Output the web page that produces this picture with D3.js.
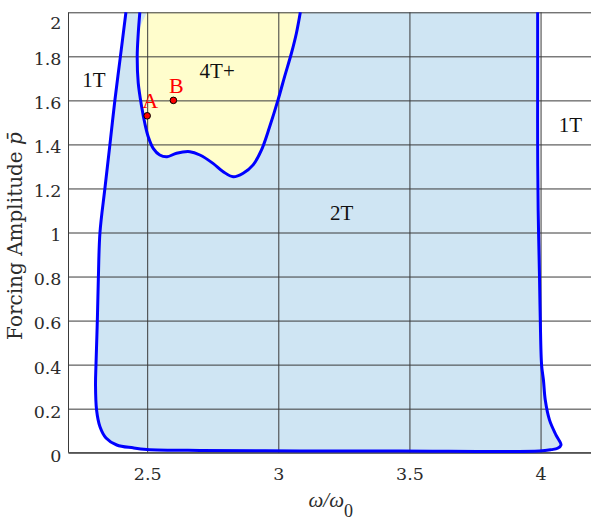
<!DOCTYPE html>
<html>
<head>
<meta charset="utf-8">
<script src="https://cdn.jsdelivr.net/npm/d3@7"></script>
<style>
  html, body { margin: 0; padding: 0; background: #fff; }
  svg { display: block; }
</style>
</head>
<body>
<svg id="chart" width="591" height="522"></svg>
<script>
// ---- data ----
const xTicks = [2.5, 3, 3.5, 4];
const yTicks = [0, 0.2, 0.4, 0.6, 0.8, 1, 1.2, 1.4, 1.6, 1.8, 2];

// outer boundary of the 2T region (omega/omega0, p)
const boundary2T = [
  [2.419, 2.0], [2.398, 1.80], [2.377, 1.602], [2.358, 1.40], [2.339, 1.202],
  [2.320, 1.0], [2.314, 0.80], [2.310, 0.603], [2.305, 0.407], [2.303, 0.307],
  [2.307, 0.194], [2.320, 0.118], [2.343, 0.067], [2.384, 0.035], [2.446, 0.022],
  [2.499, 0.015], [2.701, 0.010], [3.082, 0.008], [3.462, 0.008], [3.996, 0.008],
  [4.041, 0.014], [4.065, 0.020], [4.078, 0.035], [4.059, 0.080], [4.034, 0.149],
  [4.018, 0.239], [4.011, 0.330], [4.004, 0.398], [3.999, 0.603], [3.996, 0.798],
  [3.991, 1.10], [3.989, 1.40], [3.989, 1.70], [3.989, 2.0]
];

// boundary of the 4T+ region
const boundary4T = [
  [2.472, 2.0], [2.466, 1.905], [2.462, 1.798], [2.466, 1.678], [2.479, 1.571],
  [2.491, 1.496], [2.504, 1.435], [2.523, 1.382], [2.548, 1.352], [2.576, 1.344],
  [2.612, 1.360], [2.663, 1.367], [2.701, 1.352], [2.751, 1.314], [2.790, 1.276],
  [2.828, 1.253], [2.866, 1.269], [2.904, 1.307], [2.936, 1.375], [2.967, 1.480],
  [2.999, 1.602], [3.024, 1.708], [3.050, 1.814], [3.069, 1.905], [3.084, 2.0]
];
// the shaded 4T+ patch starts slightly to the right of the curve at the top
const fill4T = [[2.5, 2.0], [2.466, 1.905]].concat(boundary4T.slice(2));

const pointNames = ["A", "B"];
const pointX = [2.5, 2.6];
const pointY = [1.53, 1.6];

const regionNames = ["1T", "4T+", "1T", "2T"];
const regionX = [2.297, 2.767, 4.114, 3.2415];
const regionY = [1.662, 1.702, 1.458, 1.057];

// ---- chart ----
const svg = d3.select("#chart");
const pL = 68.5, pR = 593, pT = 12.3, pB = 452.7;
const x = d3.scaleLinear().domain([2.2, 4.2]).range([pL, pR]);
const y = d3.scaleLinear().domain([0, 2]).range([pB, pT]);
const tickFont = "'DejaVu Serif', serif";
const labelFont = "'Liberation Serif', 'Times New Roman', serif";

const curve = d3.line().x(d => x(d[0])).y(d => y(d[1])).curve(d3.curveCatmullRom.alpha(0.5));

// fills
svg.append("path").attr("d", curve(boundary2T) + "Z")
  .attr("fill", "#cfe5f3").attr("stroke", "none");
svg.append("path").attr("d", curve(fill4T) + "Z")
  .attr("fill", "#fffdcc").attr("stroke", "none");

// grid + axes
const gx = svg.append("g").attr("transform", `translate(0,${pB})`)
  .call(d3.axisBottom(x).tickValues(xTicks).tickSize(-(pB - pT)).tickPadding(14.5)
    .tickFormat(d3.format("")));
gx.select(".domain").remove();
gx.selectAll(".tick line").attr("stroke", "#3a3a3a").attr("stroke-width", 1);
gx.selectAll(".tick text").attr("fill", "#2b2b2b")
  .style("font-size", "17.5px").style("font-family", tickFont);

const gy = svg.append("g").attr("transform", `translate(${pL},0)`)
  .call(d3.axisLeft(y).tickValues(yTicks).tickSize(-(pR - pL)).tickPadding(7)
    .tickFormat(d3.format("")));
gy.select(".domain").remove();
gy.selectAll(".tick line").attr("stroke", "#3a3a3a").attr("stroke-width", 1);
gy.selectAll(".tick text").attr("fill", "#2b2b2b")
  .style("font-size", "17.5px").style("font-family", tickFont).attr("dy", "0.48em");
gy.selectAll(".tick text").filter(d => d === 2).attr("dy", "0.92em");

// axis frame lines (left, bottom)
svg.append("line").attr("x1", pL).attr("x2", pL).attr("y1", pT).attr("y2", pB)
  .attr("stroke", "#3a3a3a").attr("stroke-width", 1);
svg.append("line").attr("x1", pL).attr("x2", pR).attr("y1", pB).attr("y2", pB)
  .attr("stroke", "#3a3a3a").attr("stroke-width", 1);

// boundary curves
svg.append("path").attr("d", curve(boundary2T))
  .attr("fill", "none").attr("stroke", "#0000ff").attr("stroke-width", 3)
  .attr("stroke-linejoin", "round");
svg.append("path").attr("d", curve(boundary4T))
  .attr("fill", "none").attr("stroke", "#0000ff").attr("stroke-width", 3)
  .attr("stroke-linejoin", "round");

// region labels
svg.selectAll("text.region").data(regionNames).join("text")
  .attr("class", "region")
  .attr("x", (d, i) => x(regionX[i])).attr("y", (d, i) => y(regionY[i]))
  .attr("text-anchor", "middle").attr("fill", "#111")
  .style("font-size", "21px").style("font-family", labelFont)
  .text(d => d);

// points
svg.selectAll("circle.pt").data(pointNames).join("circle")
  .attr("class", "pt")
  .attr("cx", (d, i) => x(pointX[i])).attr("cy", (d, i) => y(pointY[i]))
  .attr("r", 3.3).attr("fill", "#ff0000").attr("stroke", "#000").attr("stroke-width", 1);
svg.selectAll("text.ptl").data(pointNames).join("text")
  .attr("class", "ptl")
  .attr("x", (d, i) => x(pointX[i]) + 3).attr("y", (d, i) => y(pointY[i]) - 7.5)
  .attr("text-anchor", "middle").attr("fill", "#ff0000")
  .style("font-size", "22px").style("font-family", labelFont)
  .text(d => d);

// axis titles
const xl = svg.append("text").attr("x", (pL + pR) / 2).attr("y", 507)
  .attr("text-anchor", "middle").attr("fill", "#2b2b2b")
  .style("font-size", "21px").style("font-family", labelFont);
xl.append("tspan").attr("font-style", "italic").text("ω/ω");
xl.append("tspan").style("font-size", "18px").attr("dy", "10").text("0");

const yl = svg.append("text")
  .attr("transform", `translate(21.7,236) rotate(-90)`)
  .attr("text-anchor", "middle").attr("fill", "#2b2b2b")
  .style("font-size", "20px").style("font-family", tickFont);
yl.append("tspan").text("Forcing Amplitude ");
yl.append("tspan").attr("font-style", "italic").text("p\u0304");
</script>
</body>
</html>
